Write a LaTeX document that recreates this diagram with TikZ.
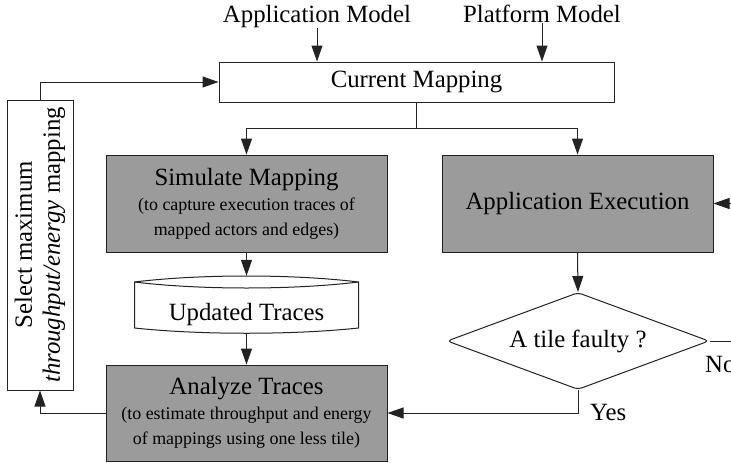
\documentclass[tikz,border=0pt]{standalone}
\usepackage{fontspec}
\setmainfont{Liberation Serif}
\usetikzlibrary{arrows.meta,shapes.geometric}
\definecolor{boxgray}{RGB}{155,155,155}
\definecolor{ink}{RGB}{35,35,35}
\newcommand\bigf{\fontsize{24.8}{28}\selectfont}
\newcommand\smf{\fontsize{17.9}{25}\selectfont}
\begin{document}
\begin{tikzpicture}[x=1pt,y=-1pt,
  line/.style={draw=ink,line width=1pt},
  arr/.style={line,-{Triangle[length=16pt,width=11pt]}},
  graybox/.style={draw=ink,line width=1pt,fill=boxgray,inner sep=0pt,align=center},
  whitebox/.style={draw=ink,line width=1pt,fill=white,inner sep=0pt,align=center},
  lbl/.style={inner sep=0pt,font=\bigf}]
\useasboundingbox (0,0) rectangle (731,463);
\clip (0,0) rectangle (731,463);
\fill[white] (0,0) rectangle (731,463);

% top inputs
\node[lbl,anchor=base] (appm) at (317,23) {Application Model};
\node[lbl,anchor=base] (platm) at (542,23) {Platform Model};

% current mapping
\node[whitebox,minimum width=395pt,minimum height=40pt,font=\bigf] (cur) at (416.5,82) {Current Mapping};

% process boxes
\node[graybox,minimum width=281pt,minimum height=97pt,font=\smf] (sim) at (246.5,203.5)
  {{\bigf Simulate Mapping}\\(to capture execution traces of\\mapped actors and edges)};
\node[graybox,minimum width=271pt,minimum height=97pt,font=\bigf] (app) at (577.5,203.5) {Application Execution};

% updated traces (stored data)
\draw[line,fill=white] (134.5,282) .. controls (200,274) and (293,274) .. (358.5,282)
  -- (358.5,328) .. controls (293,335) and (200,335) .. (134.5,328) -- cycle;
\draw[line] (134.5,282) .. controls (200,290) and (293,290) .. (358.5,282);
\node[inner sep=0pt,minimum width=224pt,minimum height=57pt,font=\bigf,text height=33pt,text depth=2pt] (upd) at (246.5,304.5) {Updated Traces};

\node[graybox,minimum width=281pt,minimum height=96pt,font=\smf] (ana) at (246.5,413)
  {{\bigf Analyze Traces}\\(to estimate throughput and energy\\of mappings using one less tile)};

% select box
\node[whitebox,rotate=90,minimum width=290pt,minimum height=66pt,font=\bigf] (sel) at (40,245)
  {Select maximum\\\textit{throughput/energy} mapping};

% decision
\node[draw=ink,line width=1pt,fill=white,diamond,aspect=2.7,minimum width=262pt,minimum height=97pt,inner sep=0pt,font=\bigf,rounded corners=4pt] (dia) at (578,341) {A tile faulty ?};

\node[lbl,anchor=base west] (yes) at (590,420) {Yes};
\node[lbl,anchor=base west] (no) at (705,372) {No};

% connectors
\draw[arr] (appm.south) -- (appm.south |- cur.north);
\draw[arr] (platm.south) -- (platm.south |- cur.north);
\coordinate (split) at (416.5,128);
\draw[line] (cur.south) -- (split);
\draw[arr] (split) -| (sim.north);
\draw[arr] (split) -| (app.north);
\draw[arr] (sim.south) -- (upd.north);
\draw[arr] (upd.south) -- (ana.north);
\coordinate (rin) at (731,203.5);
\draw[arr] (rin) -- (app.east);
\draw[arr] (app.south) -- (dia.north);
\coordinate (rno) at (731,341);
\draw[line] (dia.east) -- (rno);
\draw[arr] (dia.south) |- (ana.east);
\draw[arr] (ana.west) -| (sel.west);
\draw[arr] (sel.east) |- (cur.west);
\end{tikzpicture}
\end{document}
